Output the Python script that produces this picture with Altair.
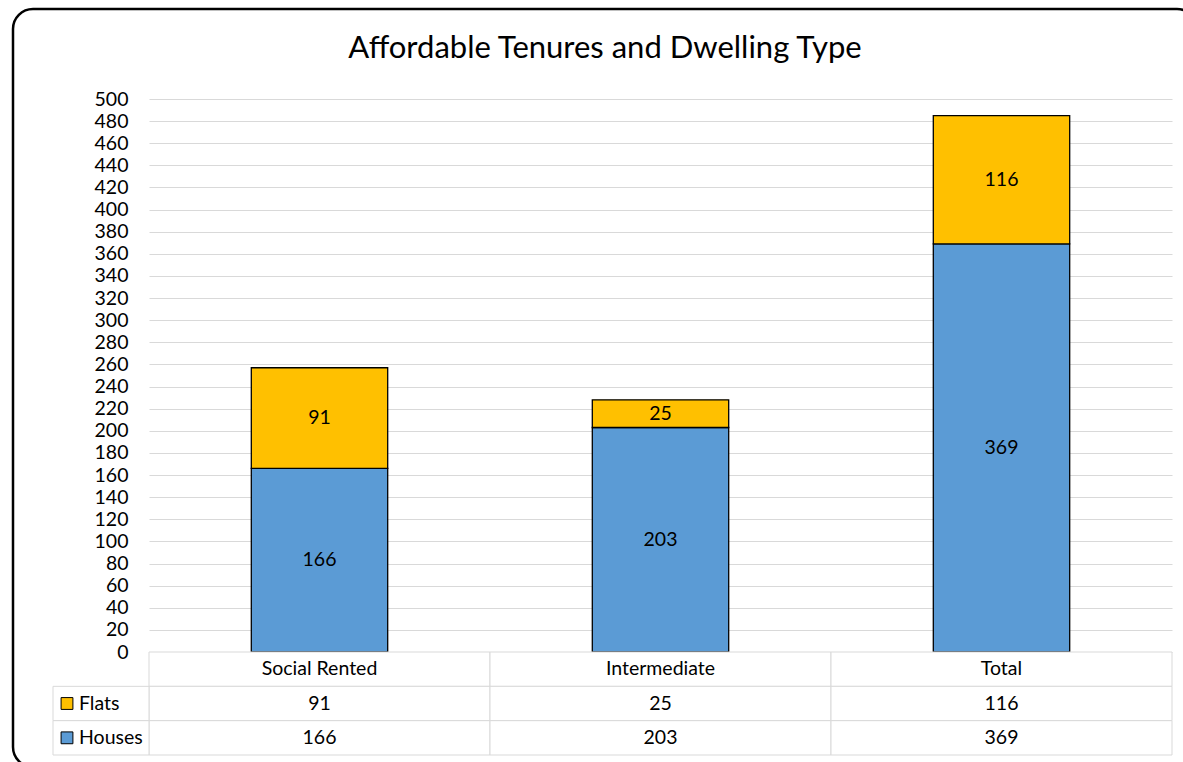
import altair as alt
import pandas as pd

# Chart data
tenures = ["Social Rented", "Intermediate", "Total"]
flats = [91, 25, 116]
houses = [166, 203, 369]
series = ["Flats", "Houses"]
colors = ["#FFC000", "#5B9BD5"]
y_ticks = list(range(0, 501, 20))

FONT = "Lato"
FS = 19.5
W, H = 1023, 656          # plot width, plot + data table height
BAR_H = 553               # height of the bar area
GRID = "#d9d9d9"

# stacked segments: Houses at the bottom, Flats on top
seg_rows = []
for t, f, h in zip(tenures, flats, houses):
    seg_rows.append({"tenure": t, "series": "Houses", "value": h, "y0": 0, "y1": h})
    seg_rows.append({"tenure": t, "series": "Flats", "value": f, "y0": h, "y1": h + f})
seg = pd.DataFrame(seg_rows)
seg["mid"] = (seg["y0"] + seg["y1"]) / 2

color_scale = alt.Scale(domain=series, range=colors)
x_bar = alt.X("tenure:N", sort=tenures, axis=None,
              scale=alt.Scale(domain=tenures, paddingInner=0.6, paddingOuter=0.3))
y_bar = alt.Scale(domain=[0, 500], range=[BAR_H, 0], nice=False, zero=True)
y_axis = alt.Axis(values=y_ticks, title=None, labelFont=FONT, labelFontSize=FS,
                  labelColor="black", ticks=False, tickSize=0, domain=False,
                  labelPadding=21, grid=True, gridColor=GRID, gridWidth=1)

bars = alt.Chart(seg).mark_bar(stroke="black", strokeWidth=1.3).encode(
    x=x_bar,
    y=alt.Y("y0:Q", scale=y_bar, axis=y_axis),
    y2="y1:Q",
    color=alt.Color("series:N", scale=color_scale, legend=None),
)
bar_labels = alt.Chart(seg).mark_text(font=FONT, fontSize=FS, color="black",
                                      baseline="middle").encode(
    x=x_bar,
    y=alt.Y("mid:Q", scale=y_bar, axis=y_axis),
    text="value:Q",
)
bar_layer = alt.layer(bars, bar_labels)

# data table under the plot
rows_order = ["header", "Flats", "Houses"]
cells = []
for t, f, h in zip(tenures, flats, houses):
    cells.append({"tenure": t, "row": "header", "text": t})
    cells.append({"tenure": t, "row": "Flats", "text": str(f)})
    cells.append({"tenure": t, "row": "Houses", "text": str(h)})
cells = pd.DataFrame(cells)

x_tab = alt.X("tenure:N", sort=tenures, axis=None,
              scale=alt.Scale(domain=tenures, paddingInner=0, paddingOuter=0))
y_tab = alt.Y("row:N", axis=None,
              scale=alt.Scale(domain=rows_order, range=[BAR_H, H], paddingInner=0, paddingOuter=0))

tab_cells = alt.Chart(cells).mark_rect(fill="white", stroke=GRID, strokeWidth=1).encode(
    x=x_tab, y=y_tab)
tab_text = alt.Chart(cells).mark_text(font=FONT, fontSize=FS, color="black",
                                      baseline="middle").encode(
    x=x_tab, y=y_tab, text="text:N")
table_layer = alt.layer(tab_cells, tab_text)

# legend keys in the table's left column
keys = pd.DataFrame({"col": ["key", "key"], "row": series, "series": series})
x_key = alt.X("col:N", axis=None,
              scale=alt.Scale(domain=["key"], range=[-96, 0], paddingInner=0, paddingOuter=0))
key_cells = alt.Chart(keys).mark_rect(fill="white", stroke=GRID, strokeWidth=1).encode(
    x=x_key, y=y_tab)
key_swatch = alt.Chart(keys).mark_point(shape="square", size=140, filled=True, opacity=1,
                                        stroke="black", strokeWidth=1, xOffset=-34).encode(
    x=x_key, y=y_tab,
    fill=alt.Fill("series:N", scale=color_scale, legend=None))
key_text = alt.Chart(keys).mark_text(font=FONT, fontSize=FS, color="black", align="left",
                                     baseline="middle", xOffset=-22).encode(
    x=x_key, y=y_tab, text="row:N")
key_layer = alt.layer(key_cells, key_swatch, key_text)

# title and rounded outer frame
one = pd.DataFrame({"label": ["Affordable Tenures and Dwelling Type"]})
title = alt.Chart(one).mark_text(font=FONT, fontSize=31, color="black",
                                 baseline="alphabetic", align="center").encode(
    x=alt.value(456), y=alt.value(-41), text="label:N")
frame = alt.Chart(one).mark_rect(fill=None, stroke="black", strokeWidth=2.5,
                                 cornerRadius=20).encode(
    x=alt.value(-136), x2=alt.value(1048), y=alt.value(-90), y2=alt.value(668))

chart = alt.layer(bar_layer, table_layer, key_layer, title, frame).resolve_scale(
    x="independent", y="independent", fill="shared", color="shared"
).properties(
    width=W, height=H,
    padding={"left": 149, "top": 99, "right": 11, "bottom": 7},
    autosize=alt.AutoSizeParams(type="none"),
    background="white",
).configure_view(stroke=None)

chart.save("out.html", embed_options={"renderer": "svg", "actions": False})
